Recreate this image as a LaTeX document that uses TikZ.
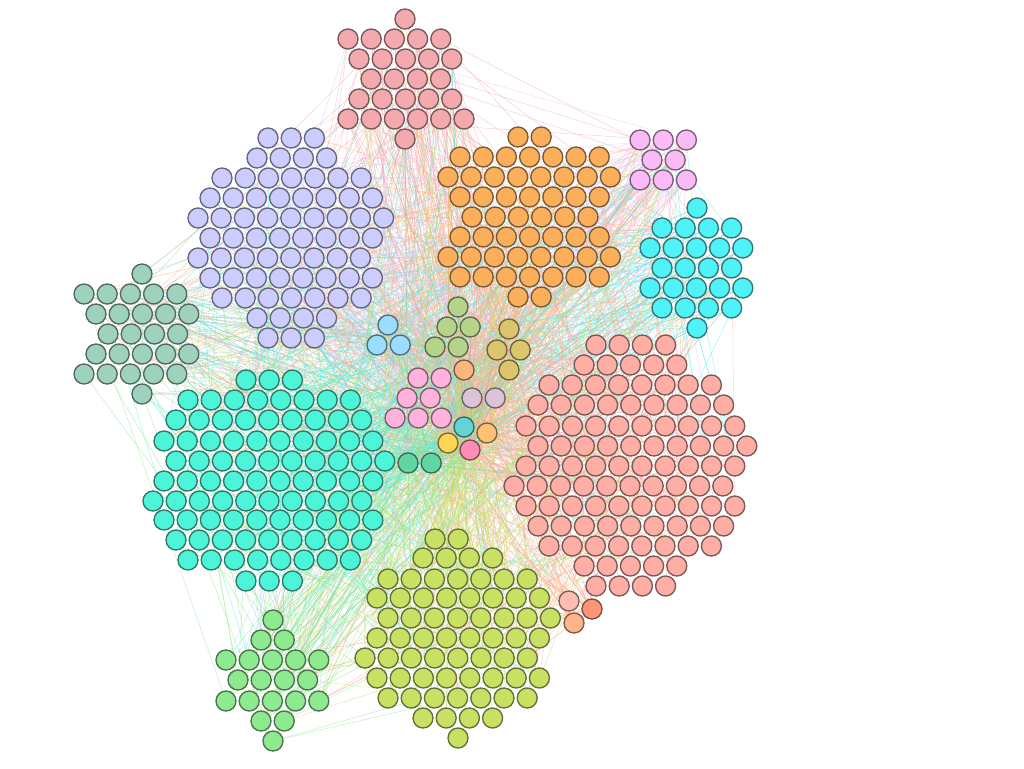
\documentclass[tikz,border=0pt]{standalone}
\usetikzlibrary{backgrounds}
\definecolor{cP}{HTML}{F4A9AE}
\definecolor{cO}{HTML}{FBAF5A}
\definecolor{cM}{HTML}{FBBBF7}
\definecolor{cC}{HTML}{4FF2F7}
\definecolor{cL}{HTML}{CCCCFF}
\definecolor{cS}{HTML}{9ED2BD}
\definecolor{cB}{HTML}{99DDFF}
\definecolor{cG}{HTML}{B5D38B}
\definecolor{cY}{HTML}{DCC56B}
\definecolor{cQ}{HTML}{FDB57F}
\definecolor{cK}{HTML}{FFB3DC}
\definecolor{cD}{HTML}{DCC3DA}
\definecolor{cT}{HTML}{63D3D4}
\definecolor{cU}{HTML}{FFC173}
\definecolor{cV}{HTML}{FFD556}
\definecolor{cW}{HTML}{FF8DB3}
\definecolor{cE}{HTML}{62D6A2}
\definecolor{cA}{HTML}{4DF5D8}
\definecolor{cR}{HTML}{FFAEA6}
\definecolor{cX}{HTML}{FFBDB3}
\definecolor{cZ}{HTML}{FF9577}
\definecolor{cH}{HTML}{FFB48A}
\definecolor{cN}{HTML}{C8E163}
\definecolor{cF}{HTML}{8EEA8E}
\tikzset{
  vtx/.style={circle, minimum size=20pt, inner sep=0pt, line width=1.35pt,
    fill=#1, draw=#1!48!black!88!gray},
  lnk/.style={line width=0.45pt, draw=#1, opacity=0.6},
}
\newcount\vcnt
\newcommand\opencl{\global\vcnt=0\relax}
\newcommand\closecl[1]{\expandafter\xdef\csname n#1\endcsname{\the\vcnt}}
% cluster, colour, y, x0, count
\newcommand\hrow[5]{%
  \foreach \k in {1,...,#5}{%
    \global\advance\vcnt by 1\relax
    \node[vtx=#2] (#1-\the\vcnt) at ({#4+23.2*(\k-1)},#3) {};
  }}
\pgfmathdeclarerandomlist{tg}{{P}{O}{O}{L}{L}{A}{A}{R}{R}{N}{N}{C}{M}{S}{F}{B}{G}{Y}{Q}{K}{D}{T}{U}{V}{W}{E}}
\newcommand\mkedges[3]{%
  \foreach \e in {1,...,#3}{%
    \pgfmathrandomitem{\tgt}{tg}%
    \edef\na{\csname n#1\endcsname}%
    \edef\nb{\csname n\tgt\endcsname}%
    \pgfmathrandominteger{\ia}{1}{\na}%
    \pgfmathrandominteger{\ib}{1}{\nb}%
    \draw[lnk=#2] (#1-\ia.center) -- (\tgt-\ib.center);
  }}
\begin{document}
\begin{tikzpicture}[x=1pt,y=-1pt]
\useasboundingbox (0,0) rectangle (1024,768);
% top pink
\opencl
\hrow{P}{cP}{19}{405}{1}
\hrow{P}{cP}{39}{348}{5}
\hrow{P}{cP}{59}{359}{5}
\hrow{P}{cP}{79}{371}{4}
\hrow{P}{cP}{99}{359}{5}
\hrow{P}{cP}{119}{348}{6}
\hrow{P}{cP}{139}{405}{1}
\closecl{P}
% orange
\opencl
\hrow{O}{cO}{137}{518}{2}
\hrow{O}{cO}{157}{460}{7}
\hrow{O}{cO}{177}{448}{8}
\hrow{O}{cO}{197}{460}{7}
\hrow{O}{cO}{217}{472}{6}
\hrow{O}{cO}{237}{460}{7}
\hrow{O}{cO}{257}{448}{8}
\hrow{O}{cO}{277}{460}{7}
\hrow{O}{cO}{297}{518}{2}
\closecl{O}
% magenta small
\opencl
\hrow{M}{cM}{140}{640}{3}
\hrow{M}{cM}{160}{652}{2}
\hrow{M}{cM}{180}{640}{3}
\closecl{M}
% cyan
\opencl
\hrow{C}{cC}{208}{697}{1}
\hrow{C}{cC}{228}{662}{4}
\hrow{C}{cC}{248}{650}{5}
\hrow{C}{cC}{268}{662}{4}
\hrow{C}{cC}{288}{650}{5}
\hrow{C}{cC}{308}{662}{4}
\hrow{C}{cC}{328}{697}{1}
\closecl{C}
% lavender
\opencl
\hrow{L}{cL}{138}{268}{3}
\hrow{L}{cL}{158}{257}{4}
\hrow{L}{cL}{178}{222}{7}
\hrow{L}{cL}{198}{210}{8}
\hrow{L}{cL}{218}{198}{9}
\hrow{L}{cL}{238}{210}{8}
\hrow{L}{cL}{258}{198}{8}
\hrow{L}{cL}{278}{210}{8}
\hrow{L}{cL}{298}{222}{7}
\hrow{L}{cL}{318}{257}{4}
\hrow{L}{cL}{338}{268}{3}
\closecl{L}
% sage
\opencl
\hrow{S}{cS}{274}{142}{1}
\hrow{S}{cS}{294}{84}{5}
\hrow{S}{cS}{314}{96}{5}
\hrow{S}{cS}{334}{108}{4}
\hrow{S}{cS}{354}{96}{5}
\hrow{S}{cS}{374}{84}{5}
\hrow{S}{cS}{394}{142}{1}
\closecl{S}
% light blue
\opencl
\hrow{B}{cB}{325}{388}{1}
\hrow{B}{cB}{345}{377}{2}
\closecl{B}
% olive
\opencl
\hrow{G}{cG}{307}{458}{1}
\hrow{G}{cG}{327}{447}{2}
\hrow{G}{cG}{347}{435}{2}
\closecl{G}
% mustard
\opencl
\hrow{Y}{cY}{329}{509}{1}
\hrow{Y}{cY}{350}{497}{2}
\hrow{Y}{cY}{370}{509}{1}
\closecl{Y}
% singles and small groups in the centre
\opencl \hrow{Q}{cQ}{370}{464}{1} \closecl{Q}
\opencl
\hrow{K}{cK}{378}{418}{2}
\hrow{K}{cK}{398}{407}{2}
\hrow{K}{cK}{418}{395}{3}
\closecl{K}
\opencl \hrow{D}{cD}{398}{472}{2} \closecl{D}
\opencl \hrow{T}{cT}{427}{464}{1} \closecl{T}
\opencl \hrow{U}{cU}{433}{487}{1} \closecl{U}
\opencl \hrow{V}{cV}{443}{448}{1} \closecl{V}
\opencl \hrow{W}{cW}{450}{470}{1} \closecl{W}
\opencl \hrow{E}{cE}{463}{408}{2} \closecl{E}
% teal big
\opencl
\hrow{A}{cA}{380}{246}{3}
\hrow{A}{cA}{400}{188}{8}
\hrow{A}{cA}{420}{176}{9}
\hrow{A}{cA}{441}{164}{10}
\hrow{A}{cA}{461}{176}{10}
\hrow{A}{cA}{481}{164}{10}
\hrow{A}{cA}{501}{153}{10}
\hrow{A}{cA}{520}{164}{10}
\hrow{A}{cA}{540}{176}{9}
\hrow{A}{cA}{560}{188}{8}
\hrow{A}{cA}{581}{246}{3}
\closecl{A}
% salmon big
\opencl
\hrow{R}{cR}{345}{596}{4}
\hrow{R}{cR}{365}{584}{5}
\hrow{R}{cR}{385}{549}{8}
\hrow{R}{cR}{405}{538}{9}
\hrow{R}{cR}{426}{526}{10}
\hrow{R}{cR}{446}{538}{10}
\hrow{R}{cR}{466}{526}{10}
\hrow{R}{cR}{486}{514}{10}
\hrow{R}{cR}{506}{526}{10}
\hrow{R}{cR}{526}{538}{9}
\hrow{R}{cR}{546}{549}{8}
\hrow{R}{cR}{566}{584}{5}
\hrow{R}{cR}{586}{596}{4}
\closecl{R}
% trio below salmon
\opencl \hrow{X}{cX}{601}{569}{1} \closecl{X}
\opencl \hrow{Z}{cZ}{609}{592}{1} \closecl{Z}
\opencl \hrow{H}{cH}{623}{574}{1} \closecl{H}
% yellow-green
\opencl
\hrow{N}{cN}{539}{435}{2}
\hrow{N}{cN}{558}{423}{4}
\hrow{N}{cN}{579}{388}{7}
\hrow{N}{cN}{598}{377}{8}
\hrow{N}{cN}{618}{388}{8}
\hrow{N}{cN}{638}{377}{8}
\hrow{N}{cN}{658}{365}{8}
\hrow{N}{cN}{678}{377}{8}
\hrow{N}{cN}{698}{388}{7}
\hrow{N}{cN}{718}{423}{4}
\hrow{N}{cN}{738}{458}{1}
\closecl{N}
% green
\opencl
\hrow{F}{cF}{620}{273}{1}
\hrow{F}{cF}{640}{261}{2}
\hrow{F}{cF}{660}{226}{5}
\hrow{F}{cF}{680}{238}{4}
\hrow{F}{cF}{701}{226}{5}
\hrow{F}{cF}{721}{261}{2}
\hrow{F}{cF}{741}{273}{1}
\closecl{F}
% edges
\begin{scope}[on background layer]
\fill[white] (0,0) rectangle (1024,768);
\pgfmathsetseed{4242}
\mkedges{P}{cP}{130}
\mkedges{O}{cO}{170}
\mkedges{M}{cM}{70}
\mkedges{C}{cC}{90}
\mkedges{L}{cL}{180}
\mkedges{S}{cS}{80}
\mkedges{B}{cB}{60}
\mkedges{G}{cG}{60}
\mkedges{Y}{cY}{60}
\mkedges{Q}{cQ}{60}
\mkedges{K}{cK}{80}
\mkedges{D}{cD}{50}
\mkedges{T}{cT}{60}
\mkedges{U}{cU}{60}
\mkedges{V}{cV}{60}
\mkedges{W}{cW}{60}
\mkedges{E}{cE}{60}
\mkedges{A}{cA}{220}
\mkedges{R}{cR}{230}
\mkedges{X}{cX}{15}
\mkedges{Z}{cZ}{15}
\mkedges{H}{cH}{15}
\mkedges{N}{cN}{160}
\mkedges{F}{cF}{80}
\end{scope}
\end{tikzpicture}
\end{document}
